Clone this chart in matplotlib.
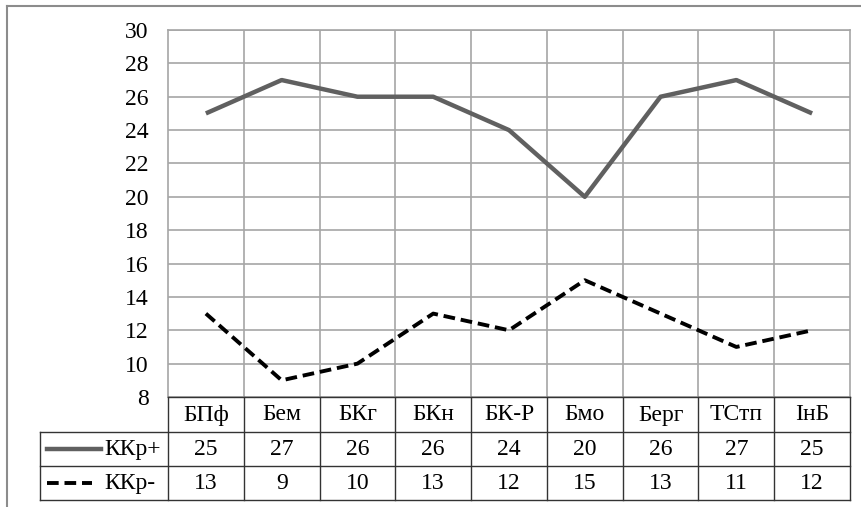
import matplotlib
matplotlib.use("Agg")
import matplotlib.pyplot as plt
from matplotlib.lines import Line2D
import matplotlib.transforms as mtransforms

categories = ["БПф", "Бем", "БКг", "БКн", "БК-Р", "Бмо", "Берг", "ТСтп", "ІнБ"]
kkr_plus = [25, 27, 26, 26, 24, 20, 26, 27, 25]
kkr_minus = [13, 9, 10, 13, 12, 15, 13, 11, 12]
series_names = ["ККр+", "ККр-"]
yticks = list(range(8, 31, 2))

plt.rcParams['font.family'] = ['Liberation Serif', 'DejaVu Serif']

W, H = 861, 507
fig = plt.figure(figsize=(W / 100, H / 100), dpi=100)

def fx(px):
    return px / W

def fy(py):
    return 1 - py / H

FS = 17
L, R, T, B = 168, 850, 30, 397
ax = fig.add_axes([fx(L), fy(B), fx(R) - fx(L), fy(T) - fy(B)])
x = list(range(len(categories)))
grey = "#606060"
dash = (0, (3.0, 1.5))
ax.plot(x, kkr_plus, color=grey, lw=3.2, solid_capstyle='butt', zorder=3)
ax.plot(x, kkr_minus, color="black", lw=2.8, ls=dash, zorder=3)
ax.set_xlim(-0.5, len(categories) - 0.5)
ax.set_ylim(8, 30)
ax.set_yticks(yticks)
ax.set_yticklabels([str(v) for v in yticks], fontsize=FS)
ax.tick_params(axis='y', length=0, pad=14)
ax.set_xticks([i + 0.5 for i in range(len(categories) - 1)])
ax.set_xticklabels([])
ax.tick_params(axis='x', length=0)
ax.grid(True, color="#a6a6a6", lw=1.2)
for s in ["left", "right", "top"]:
    ax.spines[s].set_color("#a6a6a6")
    ax.spines[s].set_linewidth(1.2)
ax.spines["bottom"].set_color("#333333")
ax.spines["bottom"].set_linewidth(1.0)

# outer frame
fig.add_artist(Line2D([fx(7), 1], [fy(6), fy(6)], color="#8c8c8c", lw=1.5, transform=fig.transFigure))
fig.add_artist(Line2D([fx(7), fx(7)], [fy(6), 0], color="#8c8c8c", lw=1.5, transform=fig.transFigure))

# data table
tr = mtransforms.blended_transform_factory(ax.transData, fig.transFigure)
tc = "#333333"
for yy in (432, 466, 500):
    fig.add_artist(Line2D([fx(40), fx(R)], [fy(yy), fy(yy)], color=tc, lw=1.0, transform=fig.transFigure))
fig.add_artist(Line2D([fx(40), fx(40)], [fy(432), fy(500)], color=tc, lw=1.0, transform=fig.transFigure))
fig.add_artist(Line2D([fx(L), fx(L)], [fy(397), fy(500)], color=tc, lw=1.0, transform=fig.transFigure))
fig.add_artist(Line2D([fx(R), fx(R)], [fy(397), fy(500)], color=tc, lw=1.0, transform=fig.transFigure))
for i in range(len(categories) - 1):
    fig.add_artist(Line2D([i + 0.5, i + 0.5], [fy(397), fy(500)], color=tc, lw=1.0, transform=tr))

for i, c in enumerate(categories):
    fig.text(i, fy(415), c, transform=tr, ha="center", va="center", fontsize=FS)
    fig.text(i, fy(449.5), str(kkr_plus[i]), transform=tr, ha="center", va="center", fontsize=FS)
    fig.text(i, fy(483.5), str(kkr_minus[i]), transform=tr, ha="center", va="center", fontsize=FS)

# legend keys
fig.add_artist(Line2D([fx(47), fx(101)], [fy(449), fy(449)], color=grey, lw=3.2, transform=fig.transFigure))
fig.add_artist(Line2D([fx(47), fx(92)], [fy(483), fy(483)], color="black", lw=2.8, ls=dash, transform=fig.transFigure))
fig.text(fx(104), fy(449.5), series_names[0], ha="left", va="center", fontsize=FS)
fig.text(fx(104), fy(483.5), series_names[1], ha="left", va="center", fontsize=FS)

fig.savefig("out.png", dpi=100)
